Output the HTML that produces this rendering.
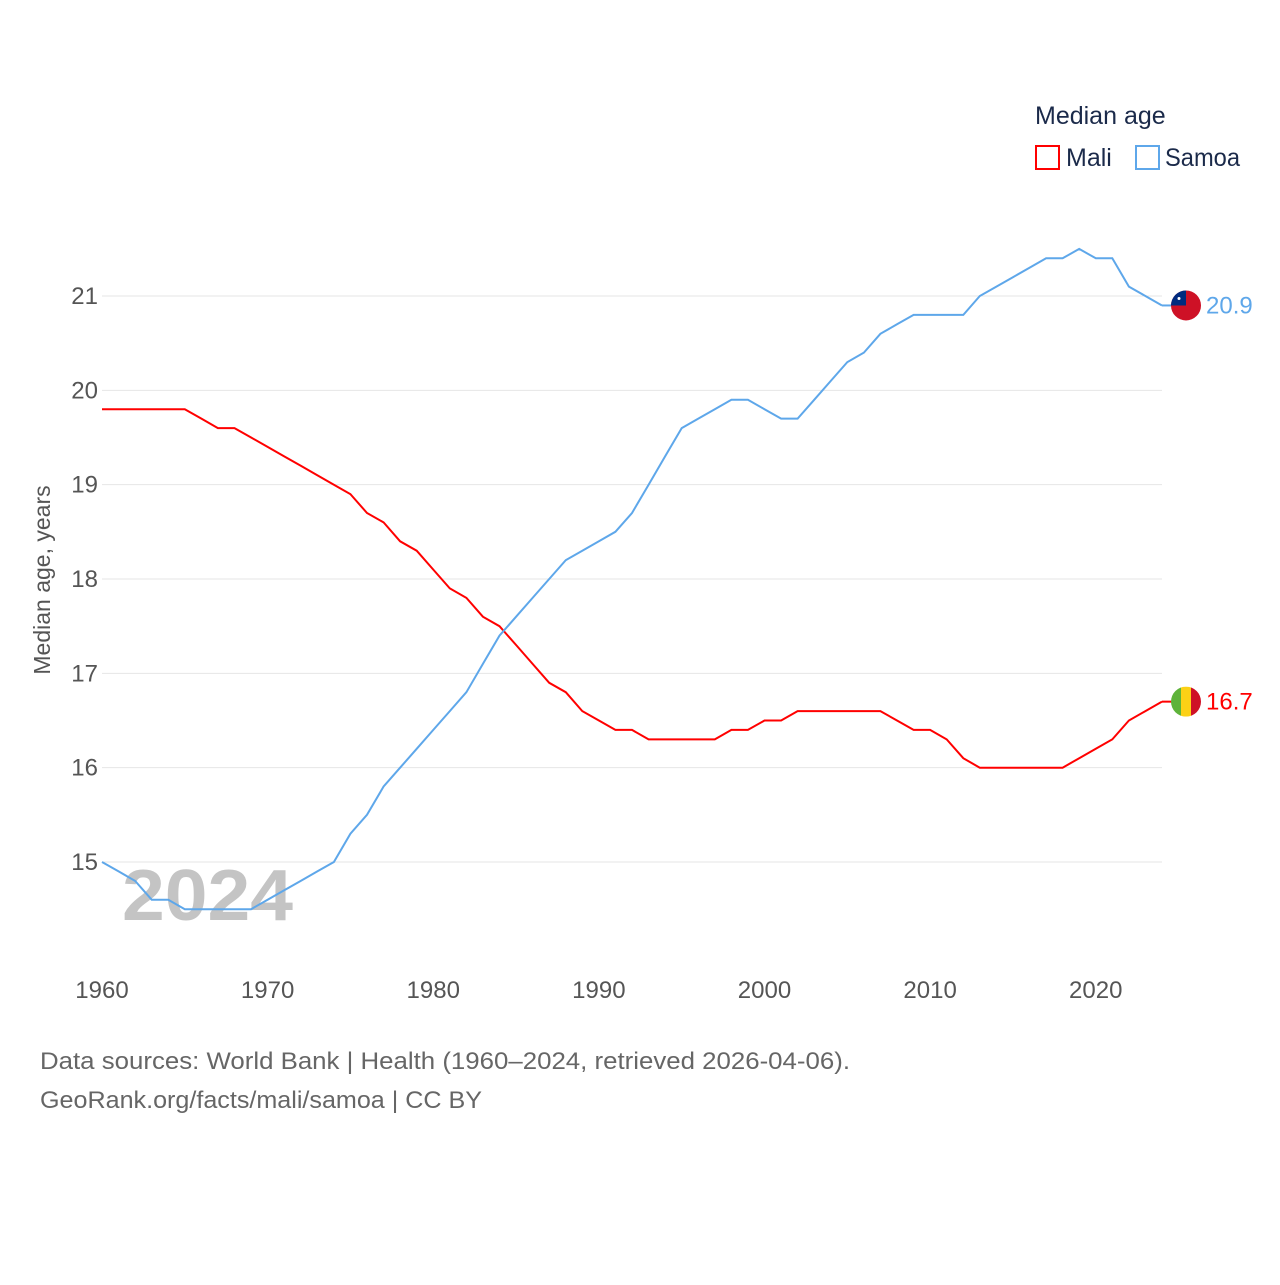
<!DOCTYPE html>
<html><head><meta charset="utf-8"><style>
body{margin:0;background:#fff;}
svg text{font-family:"Liberation Sans",sans-serif;}
</style></head><body>
<svg id="chart" width="1280" height="1280" viewBox="0 0 1280 1280" xmlns="http://www.w3.org/2000/svg">
<g id="grid"></g>
<g id="yticks"></g>
<g id="xticks"></g>
<text x="122" y="920" font-size="72" font-weight="bold" fill="#c4c4c4" textLength="171" lengthAdjust="spacingAndGlyphs">2024</text>
<g id="series"></g>
<text transform="translate(50,580) rotate(-90)" text-anchor="middle" font-size="23" fill="#555">Median age, years</text>
<text x="1035" y="124" font-size="25" fill="#1b2a4a">Median age</text>
<g><rect x="1036" y="146" width="23" height="23" fill="none" stroke="#ff0000" stroke-width="2"/><text x="1066" y="166" font-size="25" fill="#1b2a4a">Mali</text></g>
<g><rect x="1136" y="146" width="23" height="23" fill="none" stroke="#5ea7ea" stroke-width="2"/><text x="1165" y="166" font-size="25" fill="#1b2a4a" textLength="75" lengthAdjust="spacingAndGlyphs">Samoa</text></g>
<text x="40" y="1069" font-size="24" fill="#666" textLength="810" lengthAdjust="spacingAndGlyphs">Data sources: World Bank | Health (1960–2024, retrieved 2026-04-06).</text>
<text x="40" y="1108" font-size="24" fill="#666" textLength="442" lengthAdjust="spacingAndGlyphs">GeoRank.org/facts/mali/samoa | CC BY</text>
</svg>
<script>
const years=[];for(let y=1960;y<=2024;y++)years.push(y);
const mali=[19.8,19.8,19.8,19.8,19.8,19.8,19.7,19.6,19.6,19.5,19.4,19.3,19.2,19.1,19.0,18.9,18.7,18.6,18.4,18.3,18.1,17.9,17.8,17.6,17.5,17.3,17.1,16.9,16.8,16.6,16.5,16.4,16.4,16.3,16.3,16.3,16.3,16.3,16.4,16.4,16.5,16.5,16.6,16.6,16.6,16.6,16.6,16.6,16.5,16.4,16.4,16.3,16.1,16.0,16.0,16.0,16.0,16.0,16.0,16.1,16.2,16.3,16.5,16.6,16.7];
const samoa=[15.0,14.9,14.8,14.6,14.6,14.5,14.5,14.5,14.5,14.5,14.6,14.7,14.8,14.9,15.0,15.3,15.5,15.8,16.0,16.2,16.4,16.6,16.8,17.1,17.4,17.6,17.8,18.0,18.2,18.3,18.4,18.5,18.7,19.0,19.3,19.6,19.7,19.8,19.9,19.9,19.8,19.7,19.7,19.9,20.1,20.3,20.4,20.6,20.7,20.8,20.8,20.8,20.8,21.0,21.1,21.2,21.3,21.4,21.4,21.5,21.4,21.4,21.1,21.0,20.9];
const yTicks=[15,16,17,18,19,20,21];
const xTicks=[1960,1970,1980,1990,2000,2010,2020];
const NS="http://www.w3.org/2000/svg";
const xs=y=>102+(y-1960)*(1162-102)/64;
const ys=v=>862-(v-15)*94.33;
function mk(t,a,p){const e=document.createElementNS(NS,t);for(const k in a)e.setAttribute(k,a[k]);p.appendChild(e);return e;}
const grid=document.getElementById('grid'),yt=document.getElementById('yticks'),xt=document.getElementById('xticks'),ser=document.getElementById('series');
yTicks.forEach(v=>{
 const l=mk('line',{x1:102,x2:1162,y1:ys(v),y2:ys(v),stroke:'#e6e6e6','stroke-width':1},grid);
 
 
 const t=mk('text',{x:98,y:ys(v)+8,'text-anchor':'end','font-size':24,fill:'#555'},yt);t.textContent=v;
 
 
});
xTicks.forEach(v=>{
 const t=mk('text',{x:xs(v),y:998,'text-anchor':'middle','font-size':24,fill:'#555'},xt);t.textContent=v;
 
 
});
function line(vals,color,name,flag){
 const d=vals.map((v,i)=>(i?'L':'M')+xs(years[i]).toFixed(1)+' '+ys(v).toFixed(1)).join(' ');
 const p=mk('path',{d:d,fill:'none',stroke:color,'stroke-width':2},ser);
 
 
 const last=vals[vals.length-1],ly=ys(last);
 mk('line',{x1:1162,x2:1172,y1:ly,y2:ly,stroke:color,'stroke-width':2},ser);
 const g=mk('g',{},ser);
 
 
 flag(g,1186,ly);
 const t=mk('text',{x:1206,y:ly+8,'font-size':24,fill:color},ser);t.textContent=last.toFixed(1);
 
 
}
line(mali,'#ff0000','mali',(g,cx,cy)=>{
 mk('clipPath',{id:'cm'},g);const c=g.lastChild;mk('circle',{cx:cx,cy:cy,r:15},c);
 const gg=mk('g',{'clip-path':'url(#cm)'},g);
 mk('rect',{x:cx-15,y:cy-15,width:10,height:30,fill:'#5eb33a'},gg);
 mk('rect',{x:cx-5,y:cy-15,width:10,height:30,fill:'#fcd116'},gg);
 mk('rect',{x:cx+5,y:cy-15,width:10,height:30,fill:'#ce1126'},gg);
});
line(samoa,'#5ea7ea','samoa',(g,cx,cy)=>{
 mk('circle',{cx:cx,cy:cy,r:15,fill:'#ce1126'},g);
 mk('path',{d:`M${cx-15} ${cy} A15 15 0 0 1 ${cx} ${cy-15} L${cx} ${cy} Z`,fill:'#002b7f'},g);
 mk('circle',{cx:cx-7,cy:cy-7,r:1.5,fill:'#fff'},g);
});
</script>
</body></html>
